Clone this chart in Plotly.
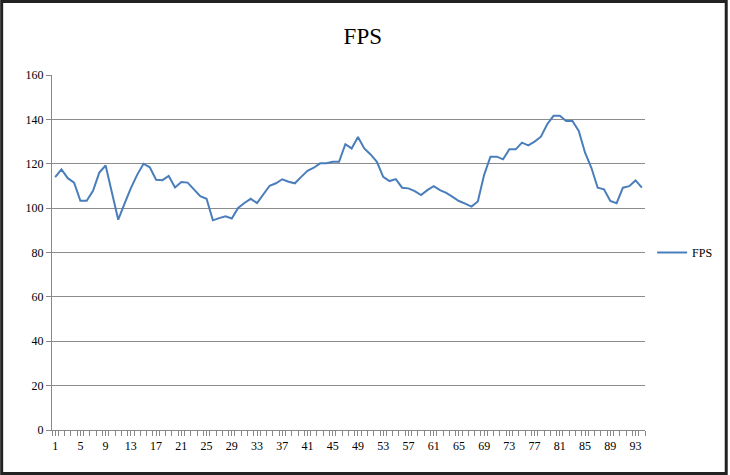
import plotly.graph_objects as go

frames = list(range(1, 95))
fps = [114, 117.5, 113.5, 111.5, 103.3, 103.3, 107.8, 116, 119.2, 107,
       94.8, 102, 109, 115, 120, 118.4, 112.8, 112.6, 114.5, 109.3,
       111.8, 111.5, 108.4, 105.4, 104.2, 94.5, 95.5, 96.3, 95.3, 100.1,
       102.3, 104.2, 102.3, 106.3, 110.1, 111.2, 113, 111.9, 111.2, 114.1,
       116.8, 118.2, 120.2, 120.2, 120.9, 120.9, 128.8, 126.9, 132.1, 126.9,
       124.2, 120.9, 114.1, 112.2, 113.1, 109.2, 108.9, 107.7, 105.9, 108.1,
       109.9, 108.1, 106.9, 105.1, 103.2, 102, 100.7, 103, 115, 123.2,
       123.2, 122, 126.5, 126.5, 129.5, 128.3, 130, 132.2, 137.8, 141.6,
       141.6, 139.3, 139.3, 134.8, 125, 118.2, 109.2, 108.5, 103.2, 102.2,
       109.2, 109.9, 112.5, 109.2]
x_ticks = list(range(1, 95, 4))
y_ticks = list(range(0, 161, 20))

fig = go.Figure()
fig.add_trace(go.Scatter(x=frames, y=fps, mode="lines", name="FPS",
                         line=dict(color="#4a7ebb", width=2)))

W, H = 730, 475
ml, mr, mt, mb = 52, 83, 75, 45
pw, ph = W - ml - mr, H - mt - mb

fig.update_layout(
    width=W, height=H,
    margin=dict(l=ml, r=mr, t=mt, b=mb),
    paper_bgcolor="white", plot_bgcolor="white",
    title=dict(text="FPS", x=0.497, xanchor="center", y=0.925, yanchor="middle",
               font=dict(family="Liberation Serif", size=23, color="black")),
    showlegend=True,
    legend=dict(x=1.012, y=0.5, xanchor="left", yanchor="middle",
                font=dict(family="Liberation Serif", size=12, color="black"),
                bgcolor="rgba(0,0,0,0)", itemwidth=30),
    font=dict(family="Liberation Serif", size=12, color="black"),
)
fig.update_xaxes(
    range=[0.5, 94.5], tickmode="array", tickvals=x_ticks,
    ticktext=[str(v) for v in x_ticks],
    showgrid=False, zeroline=False,
    showline=True, linecolor="#888888", linewidth=1,
    ticks="outside", ticklen=5, tickcolor="#888888",
    minor=dict(ticks="outside", tickmode="linear", tick0=0.5, dtick=1,
               ticklen=5, tickcolor="#888888", showgrid=False),
    tickfont=dict(family="Liberation Serif", size=12, color="black"),
)
fig.update_yaxes(
    range=[0, 160], tickmode="array", tickvals=y_ticks,
    showgrid=True, gridcolor="#8c8c8c", gridwidth=1, zeroline=False,
    showline=True, linecolor="#888888", linewidth=1,
    ticks="outside", ticklen=5, tickcolor="#888888",
    tickfont=dict(family="Liberation Serif", size=12, color="black"),
)
# outer chart frame
fig.add_shape(type="rect", xref="paper", yref="paper",
              x0=(1.5 - ml) / pw, x1=(W - 1.5 - ml) / pw,
              y0=-(mb - 1.5) / ph, y1=1 + (mt - 1.5) / ph,
              line=dict(color="#222222", width=3), layer="above")

fig.write_html("out.html")
